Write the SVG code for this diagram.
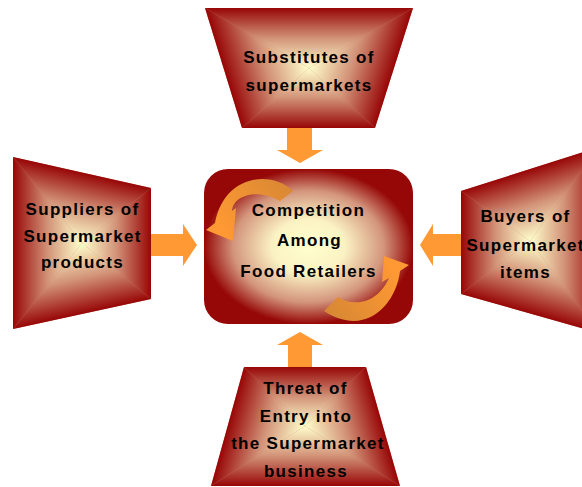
<svg xmlns="http://www.w3.org/2000/svg" width="582" height="487" viewBox="0 0 582 487">
<style>
.t{font-family:"Liberation Sans",Arial,sans-serif;font-weight:bold;font-size:17px;letter-spacing:1.3px;fill:#000;text-anchor:middle}
.base{fill:#C77F68}
.arrow{fill:#FF9933}
</style>
<defs>
<linearGradient id="bev" gradientUnits="userSpaceOnUse">
<stop offset="0" stop-color="#970606"/>
<stop offset="0.5" stop-color="#D29278"/>
<stop offset="1" stop-color="#FFFFCC"/>
</linearGradient>
<!-- top trapezoid -->
<linearGradient id="gT1" href="#bev" x1="309" y1="8" x2="309" y2="68"/>
<linearGradient id="gT2" href="#bev" x1="386.25" y1="92.47" x2="309" y2="68"/>
<linearGradient id="gT3" href="#bev" x1="309" y1="128" x2="309" y2="68"/>
<linearGradient id="gT4" href="#bev" x1="230.92" y1="92.07" x2="309" y2="68"/>
<!-- left trapezoid -->
<linearGradient id="gL1" href="#bev" x1="97.08" y1="175.89" x2="82" y2="243"/>
<linearGradient id="gL2" href="#bev" x1="151" y1="243" x2="82" y2="243"/>
<linearGradient id="gL3" href="#bev" x1="96.74" y1="310.8" x2="82" y2="243"/>
<linearGradient id="gL4" href="#bev" x1="13" y1="243" x2="82" y2="243"/>
<!-- right trapezoid -->
<linearGradient id="gR1" href="#bev" x1="509.16" y1="175.64" x2="530" y2="241"/>
<linearGradient id="gR2" href="#bev" x1="599" y1="241" x2="530" y2="241"/>
<linearGradient id="gR3" href="#bev" x1="511.03" y1="308.14" x2="530" y2="241"/>
<linearGradient id="gR4" href="#bev" x1="461" y1="241" x2="530" y2="241"/>
<!-- bottom trapezoid -->
<linearGradient id="gB1" href="#bev" x1="305" y1="367" x2="305" y2="426"/>
<linearGradient id="gB2" href="#bev" x1="376.98" y1="405.43" x2="305" y2="426"/>
<linearGradient id="gB3" href="#bev" x1="305" y1="486" x2="305" y2="426"/>
<linearGradient id="gB4" href="#bev" x1="233.16" y1="406.08" x2="305" y2="426"/>
<radialGradient id="gC" cx="0.5" cy="0.5" r="0.5">
<stop offset="0" stop-color="#FFFFCC"/>
<stop offset="0.35" stop-color="#FBF2C4"/>
<stop offset="0.72" stop-color="#D3957C"/>
<stop offset="1" stop-color="#960808"/>
</radialGradient>
<linearGradient id="gA1" gradientUnits="userSpaceOnUse" x1="290" y1="185" x2="222" y2="232">
<stop offset="0" stop-color="#D88834"/>
<stop offset="1" stop-color="#FF9933"/>
</linearGradient>
<linearGradient id="gA2" gradientUnits="userSpaceOnUse" x1="328" y1="310" x2="392" y2="266">
<stop offset="0" stop-color="#D88834"/>
<stop offset="1" stop-color="#FF9933"/>
</linearGradient>
</defs>

<g id="connectors">
<polygon class="arrow" points="287,128 312,128 312,150 323,150 300,163 277,150 287,150"/>
<polygon class="arrow" points="288,367 312,367 312,345 323,345 300,332 277,345 288,345"/>
<polygon class="arrow" points="151,234 183,234 183,224 197,245 183,266 183,256 151,256"/>
<polygon class="arrow" points="461,234 433,234 433,224 420,245 433,266 433,256 461,256"/>
</g>

<g id="node-substitutes">
<polygon class="base" points="205,8 413,8 375,128 242,128"/>
<polygon fill="url(#gT1)" points="205,8 413,8 309,68"/>
<polygon fill="url(#gT2)" points="413,8 375,128 309,68"/>
<polygon fill="url(#gT3)" points="375,128 242,128 309,68"/>
<polygon fill="url(#gT4)" points="242,128 205,8 309,68"/>
<text class="t" x="309" y="63">Substitutes of</text>
<text class="t" x="309" y="90.5">supermarkets</text>
</g>

<g id="node-suppliers">
<polygon class="base" points="13,157 151,188 151,299 13,329"/>
<polygon fill="url(#gL1)" points="13,157 151,188 82,243"/>
<polygon fill="url(#gL2)" points="151,188 151,299 82,243"/>
<polygon fill="url(#gL3)" points="151,299 13,329 82,243"/>
<polygon fill="url(#gL4)" points="13,329 13,157 82,243"/>
<text class="t" x="82.5" y="215">Suppliers of</text>
<text class="t" x="82.5" y="241.5">Supermarket</text>
<text class="t" x="82.5" y="268">products</text>
</g>

<g id="node-buyers">
<polygon class="base" points="461,191 599,147 599,333 461,294"/>
<polygon fill="url(#gR1)" points="461,191 599,147 530,241"/>
<polygon fill="url(#gR2)" points="599,147 599,333 530,241"/>
<polygon fill="url(#gR3)" points="599,333 461,294 530,241"/>
<polygon fill="url(#gR4)" points="461,294 461,191 530,241"/>
<text class="t" x="525.5" y="221.5">Buyers of</text>
<text class="t" x="525.5" y="250.5">Supermarket</text>
<text class="t" x="525.5" y="278">items</text>
</g>

<g id="node-entry">
<polygon class="base" points="244,367 366,367 400,486 211,486"/>
<polygon fill="url(#gB1)" points="244,367 366,367 305,426"/>
<polygon fill="url(#gB2)" points="366,367 400,486 305,426"/>
<polygon fill="url(#gB3)" points="400,486 211,486 305,426"/>
<polygon fill="url(#gB4)" points="211,486 244,367 305,426"/>
<text class="t" x="305.5" y="393.5">Threat of</text>
<text class="t" x="306" y="421.5">Entry into</text>
<text class="t" x="308" y="449.3">the Supermarket</text>
<text class="t" x="306" y="476.7">business</text>
</g>

<g id="node-center">
<rect x="204" y="169" width="209" height="155" rx="24" ry="24" fill="url(#gC)"/>
<path fill="url(#gA1)" d="M293,191 C272,170 224,174 215,223 L206,230 L233,241 L236,208 L232,211 C233,195 258,188 280,201 Z"/>
<path fill="url(#gA2)" d="M338,297 C352,306 376,306 389,278 L382,282 L384,256 L409,265 L400,271 C396,305 365,338 324,311 Z"/>
<text class="t" x="308.5" y="215.7">Competition</text>
<text class="t" x="309.5" y="245.7">Among</text>
<text class="t" x="308.5" y="276.7">Food Retailers</text>
</g>
</svg>
